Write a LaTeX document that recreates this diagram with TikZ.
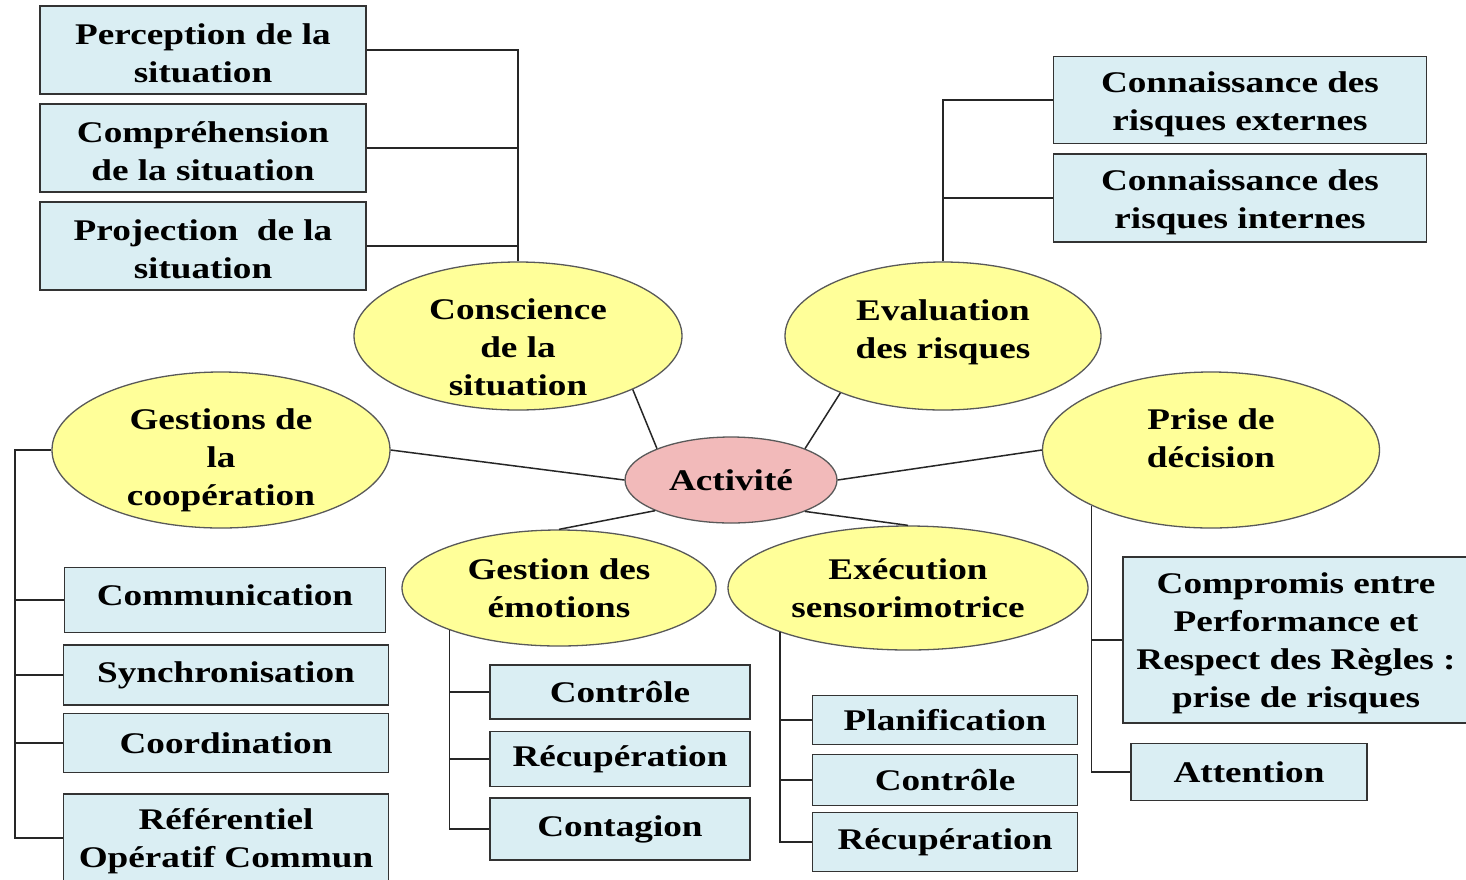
\documentclass[tikz,border=0pt]{standalone}
\usepackage{fontspec}
\setmainfont{Liberation Serif}[FakeStretch=1.24]
\usepackage{tikz}
\usetikzlibrary{shapes.geometric}
\definecolor{boxblue}{RGB}{218,238,243}
\definecolor{ovalyellow}{RGB}{255,255,153}
\definecolor{actpink}{RGB}{242,186,186}

\begin{document}
\begin{tikzpicture}[x=1pt, y=-1pt, font=\bfseries\fontsize{30}{38}\selectfont,
  box/.style={draw=black!80, line width=1.6pt, fill=boxblue, align=center, inner sep=0pt},
  oval/.style={ellipse, draw=black!65, line width=1.3pt, fill=ovalyellow, align=center, inner sep=0pt},
  link/.style={line width=1.5pt, draw=black!85}]
\useasboundingbox (0,0) rectangle (1466,879);
\clip (0,0) rectangle (1466,879);
\fill[white] (0,0) rectangle (1466,879);
% centre and first ring
\node[oval, fill=actpink, minimum width=212pt, minimum height=86pt] (act) at (731,480) {Activit\'e};
\node[oval, minimum width=328pt, minimum height=148pt, text height=120pt, inner ysep=-14pt] (consc) at (518,336) {Conscience\\de la\\situation};
\node[oval, minimum width=316pt, minimum height=148pt, text depth=14pt] (eval) at (943,336) {Evaluation\\des risques};
\node[oval, minimum width=338pt, minimum height=156pt, text height=118pt, inner ysep=-16pt] (coop) at (221,450) {Gestions de\\la\\coop\'eration};
\node[oval, minimum width=337pt, minimum height=156pt, text depth=24pt] (prise) at (1211,450) {Prise de\\d\'ecision};
\node[oval, minimum width=314pt, minimum height=116pt] (emo) at (559,588) {Gestion des\\\'emotions};
\node[oval, minimum width=360pt, minimum height=124pt] (exe) at (908,588) {Ex\'ecution\\sensorimotrice};
% boxes
\node[box, minimum width=326pt, minimum height=88pt, text height=65pt] (percep) at (203,50) {Perception de la\\situation};
\node[box, minimum width=326pt, minimum height=88pt, text height=66pt] (compr) at (203,148) {Compr\'ehension\\de la situation};
\node[box, minimum width=326pt, minimum height=88pt, text height=65pt] (proj) at (203,246) {Projection\ \ de la\\situation};
\node[box, minimum width=373pt, minimum height=87pt, text height=61pt, text depth=0pt] (ext) at (1240,100) {Connaissance des\\risques externes};
\node[box, minimum width=373pt, minimum height=88pt, text height=61pt, text depth=0pt] (int) at (1240,198) {Connaissance des\\risques internes};
\node[box, minimum width=321pt, minimum height=65pt, text depth=10pt] (comm) at (225,600) {Communication};
\node[box, minimum width=325pt, minimum height=60pt] (sync) at (226,675) {Synchronisation};
\node[box, minimum width=325pt, minimum height=59pt] (coord) at (226,743) {Coordination};
\node[box, minimum width=325pt, minimum height=88pt, text depth=0pt] (refer) at (226,838) {R\'ef\'erentiel\\Op\'eratif Commun};
\node[box, minimum width=260pt, minimum height=54pt] (ctrla) at (620,692) {Contr\^ole};
\node[box, minimum width=260pt, minimum height=55pt] (recupa) at (620,759) {R\'ecup\'eration};
\node[box, minimum width=260pt, minimum height=62pt] (contag) at (620,829) {Contagion};
\node[box, minimum width=265pt, minimum height=49pt] (plan) at (945,720) {Planification};
\node[box, minimum width=265pt, minimum height=51pt] (ctrlb) at (945,780) {Contr\^ole};
\node[box, minimum width=265pt, minimum height=59pt] (recupb) at (945,842) {R\'ecup\'eration};
\node[box, minimum width=346pt, minimum height=166pt, text depth=0pt] (compro) at (1296,640) {Compromis entre\\Performance et\\Respect des R\`egles :\\prise de risques};
\node[box, minimum width=236pt, minimum height=57pt] (atten) at (1249,772) {Attention};
\coordinate (coopbus) at (15,450);
% spokes
\draw[link] (act.157) -- (consc.-25);
\draw[link] (act.23) -- (eval.-151);
\draw[link] (act.west) -- (coop.east);
\draw[link] (act.east) -- (prise.west);
\draw[link] (act.-158) -- (emo.north);
\draw[link] (act.-23) -- (exe.north);
% trees
\draw[link] (percep.east) -| (consc.north);
\draw[link] (compr.east) -- (compr.east -| consc.north);
\draw[link] (proj.east) -- (proj.east -| consc.north);
\draw[link] (ext.west) -| (eval.north);
\draw[link] (int.west) -- (int.west -| eval.north);
\draw[link] (coop.west) -- (coopbus) |- (refer.west);
\draw[link] (comm.west) -- (comm.west -| coopbus);
\draw[link] (sync.west) -- (sync.west -| coopbus);
\draw[link] (coord.west) -- (coord.west -| coopbus);
\draw[link] (emo.201) |- (contag.west);
\draw[link] (ctrla.west) -- (ctrla.west -| emo.201);
\draw[link] (recupa.west) -- (recupa.west -| emo.201);
\draw[link] (exe.199) |- (recupb.west);
\draw[link] (plan.west) -- (plan.west -| exe.199);
\draw[link] (ctrlb.west) -- (ctrlb.west -| exe.199);
\draw[link] (prise.205) |- (atten.west);
\draw[link] (compro.west) -- (compro.west -| prise.205);
\end{tikzpicture}
\end{document}
